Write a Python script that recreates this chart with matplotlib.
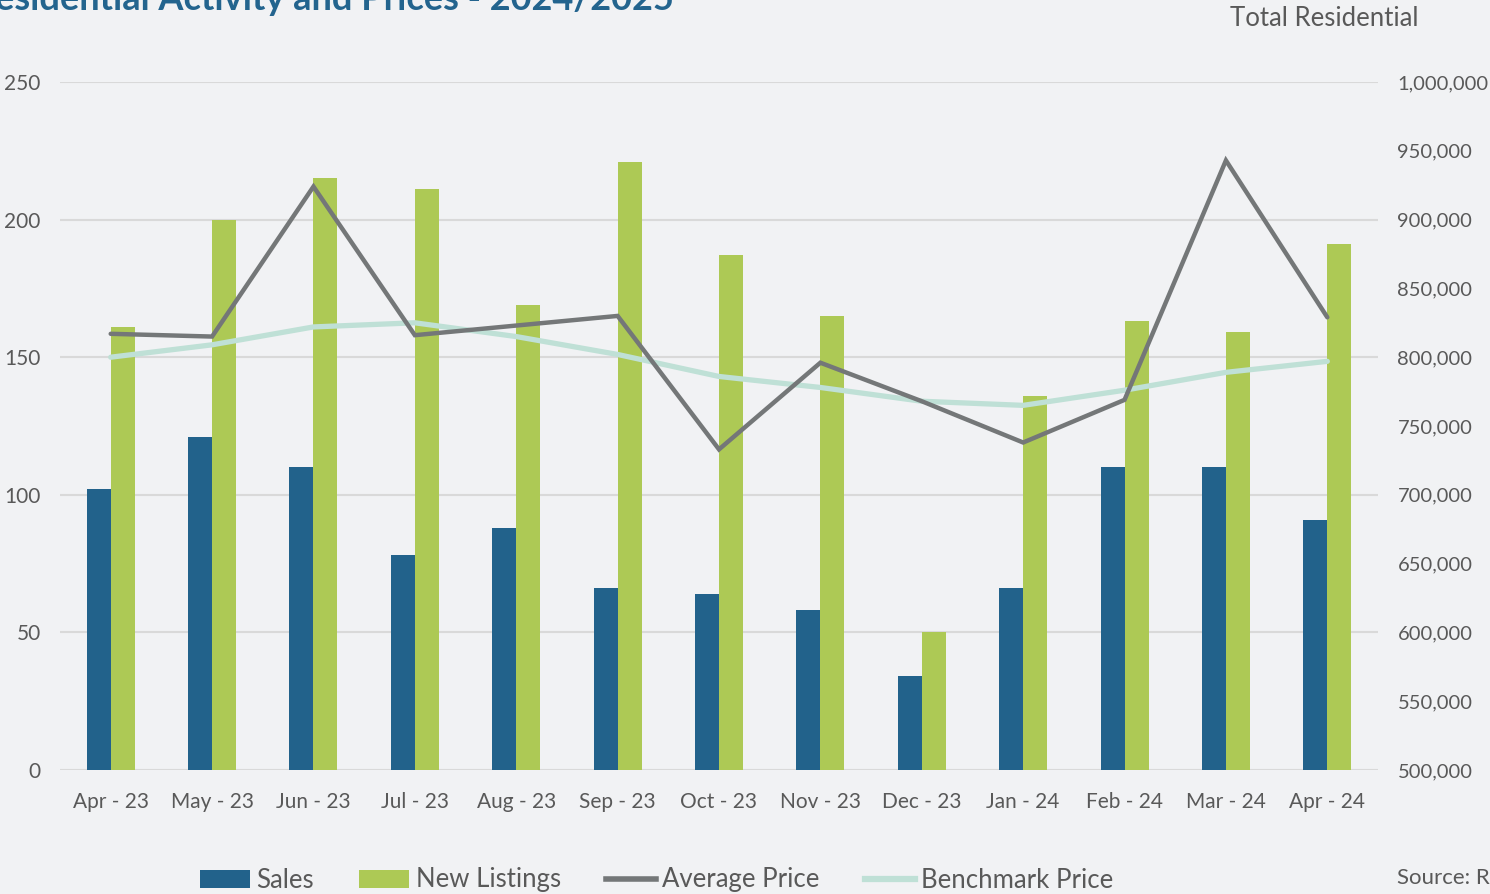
import matplotlib
matplotlib.use("Agg")
import matplotlib.pyplot as plt
from matplotlib.ticker import FuncFormatter, MultipleLocator
from matplotlib.patches import Patch
from matplotlib.lines import Line2D
import numpy as np

months = ["Apr - 23", "May - 23", "Jun - 23", "Jul - 23", "Aug - 23", "Sep - 23", "Oct - 23",
          "Nov - 23", "Dec - 23", "Jan - 24", "Feb - 24", "Mar - 24", "Apr - 24"]
sales = [102, 121, 110, 78, 88, 66, 64, 58, 34, 66, 110, 110, 91]
new_listings = [161, 200, 215, 211, 169, 221, 187, 165, 50, 136, 163, 159, 191]
average_price = [817000, 815000, 924000, 816000, 823000, 830000, 733000, 796000, 768000, 738000, 769000, 943000, 829000]
benchmark_price = [800000, 809000, 822000, 825000, 815000, 802000, 786000, 778000, 768000, 765000, 776000, 789000, 797000]

BG = "#f1f2f4"
C_SALES = "#22628b"
C_LIST = "#adc955"
C_AVG = "#747778"
C_BENCH = "#bfe0d6"
C_TXT = "#595959"
C_TITLE = "#23648e"

plt.rcParams["font.family"] = ["Lato", "DejaVu Sans"]

fig = plt.figure(figsize=(14.9, 8.94), dpi=100, facecolor=BG)
ax = fig.add_axes([60/1490, (894-770)/894, (1378-60)/1490, (770-82)/894])
ax.set_facecolor(BG)

x = np.arange(len(months))
w = 0.237
ax.bar(x - w/2, sales, width=w, color=C_SALES, zorder=2)
ax.bar(x + w/2, new_listings, width=w, color=C_LIST, zorder=2)

ax.set_xlim(-0.5, len(months) - 0.5)
ax.set_ylim(0, 250)
ax.yaxis.set_major_locator(MultipleLocator(50))
ax.grid(axis="y", color="#d9d9d9", linewidth=1.5, zorder=0)
ax.set_axisbelow(True)
for s in ax.spines.values():
    s.set_visible(False)
ax.set_xticks(x)
ax.set_xticklabels(months)
ax.tick_params(axis="both", length=0, labelsize=15, labelcolor=C_TXT)
ax.tick_params(axis="x", pad=16)
ax.tick_params(axis="y", pad=14)

ax2 = ax.twinx()
ax2.set_ylim(500000, 1000000)
ax2.yaxis.set_major_locator(MultipleLocator(50000))
ax2.yaxis.set_major_formatter(FuncFormatter(lambda v, p: f"{int(v):,}"))
for s in ax2.spines.values():
    s.set_visible(False)
ax2.tick_params(axis="y", length=0, labelsize=14.5, labelcolor=C_TXT, pad=14)

ax2.plot(x, benchmark_price, color=C_BENCH, linewidth=3.8, solid_capstyle="round", solid_joinstyle="round", zorder=3)
ax2.plot(x, average_price, color=C_AVG, linewidth=3.2, solid_capstyle="round", solid_joinstyle="miter", zorder=4)

# Title (cut off at the top-left like the reference)
fig.text(-28/1490, (894-10)/894, "Residential Activity and Prices - 2024/2025",
         fontsize=26, fontweight="bold", color=C_TITLE, ha="left", va="baseline")
fig.text(1418/1490, (894-19)/894, "Total Residential", fontsize=18.5, color=C_TXT,
         ha="right", va="center")
fig.text(1397/1490, (894-878)/894, "Source: R", fontsize=16, color=C_TXT,
         ha="left", va="center")

handles = [Patch(facecolor=C_SALES, label="Sales"),
           Patch(facecolor=C_LIST, label="New Listings"),
           Line2D([], [], color=C_AVG, linewidth=4, label="Average Price"),
           Line2D([], [], color=C_BENCH, linewidth=4.5, label="Benchmark Price")]
leg = fig.legend(handles=handles, loc="center left", bbox_to_anchor=(200/1490, (894-880)/894),
                 ncol=4, frameon=False, fontsize=18.5, handlelength=1.95, handletextpad=0.25,
                 columnspacing=1.75, borderpad=0, borderaxespad=0, labelcolor=C_TXT)

fig.savefig("out.png", dpi=100, facecolor=BG)
